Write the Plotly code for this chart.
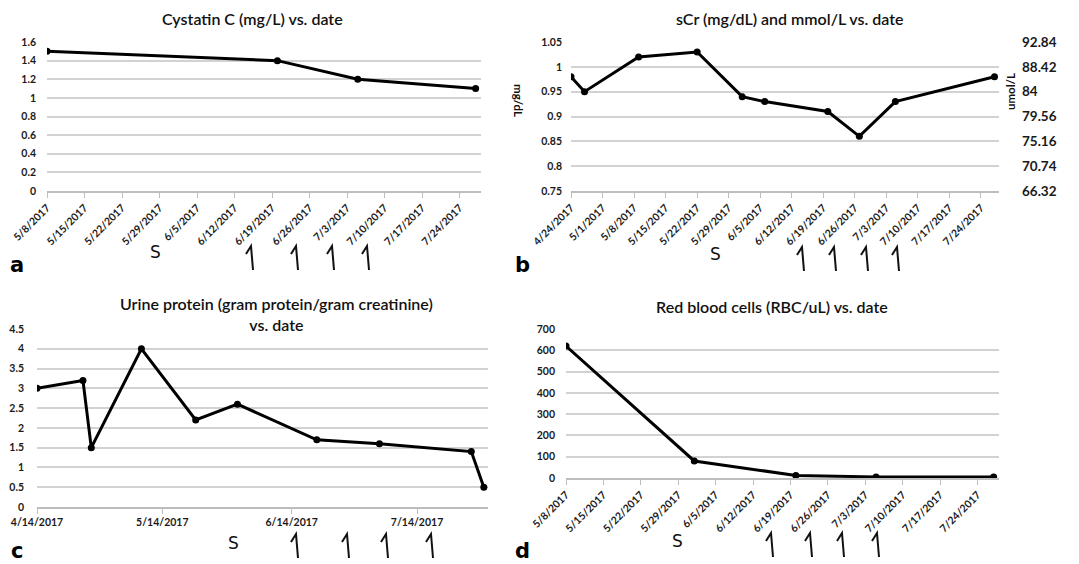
import plotly.graph_objects as go

# page is 1079x564; the html body adds an 8px margin at top/left, so the figure is drawn after it
PAGE_W, PAGE_H = 1079, 564
OFF = 8
W, H = PAGE_W - OFF, PAGE_H - OFF

# ---------------- data ----------------
cys_dates = ['2017-05-08', '2017-06-20', '2017-07-05', '2017-07-27']
cys_vals = [1.5, 1.4, 1.2, 1.1]

scr_dates = ['2017-04-24', '2017-04-27', '2017-05-09', '2017-05-22', '2017-06-01',
             '2017-06-06', '2017-06-20', '2017-06-27', '2017-07-05', '2017-07-27']
scr_vals = [0.98, 0.95, 1.02, 1.03, 0.94, 0.93, 0.91, 0.86, 0.93, 0.98]

up_dates = ['2017-04-14', '2017-04-25', '2017-04-27', '2017-05-09', '2017-05-22',
            '2017-06-01', '2017-06-20', '2017-07-05', '2017-07-27', '2017-07-30']
up_vals = [3.0, 3.2, 1.5, 4.0, 2.2, 2.6, 1.7, 1.6, 1.4, 0.5]

rbc_dates = ['2017-05-08', '2017-06-01', '2017-06-20', '2017-07-05', '2017-07-27']
rbc_vals = [620, 80, 12, 5, 5]

# tick labels
a_xticks = ['2017-05-08', '2017-05-15', '2017-05-22', '2017-05-29', '2017-06-05', '2017-06-12',
            '2017-06-19', '2017-06-26', '2017-07-03', '2017-07-10', '2017-07-17', '2017-07-24']
b_xticks = ['2017-04-24', '2017-05-01'] + a_xticks
c_xticks = ['2017-04-14', '2017-05-14', '2017-06-14', '2017-07-14']
c_xticktext = ['4/14/2017', '5/14/2017', '6/14/2017', '7/14/2017']
d_xticks = a_xticks

a_yvals = [0, 0.2, 0.4, 0.6, 0.8, 1.0, 1.2, 1.4, 1.6]
a_ytext = ['0', '0.2', '0.4', '0.6', '0.8', '1', '1.2', '1.4', '1.6']
b_yvals = [0.75, 0.8, 0.85, 0.9, 0.95, 1.0, 1.05]
b_ytext = ['0.75', '0.8', '0.85', '0.9', '0.95', '1', '1.05']
b_y2text = ['66.32', '70.74', '75.16', '79.56', '84', '88.42', '92.84']
c_yvals = [0, 0.5, 1, 1.5, 2, 2.5, 3, 3.5, 4, 4.5]
c_ytext = ['0', '0.5', '1', '1.5', '2', '2.5', '3', '3.5', '4', '4.5']
d_yvals = [0, 100, 200, 300, 400, 500, 600, 700]
d_ytext = ['0', '100', '200', '300', '400', '500', '600', '700']

titles = ['Cystatin C (mg/L) vs. date',
          'sCr (mg/dL) and mmol/L vs. date',
          'Urine protein (gram protein/gram creatinine)<br>vs. date',
          'Red blood cells (RBC/uL) vs. date']


def fx(p):
    return (p - OFF) / W


def fy(p):
    return 1 - (p - OFF) / H


FONT = 'Lato'
GRID = '#d2d2d2'
LINE = dict(color='black', width=3)
MARK = dict(color='black', size=7)

fig = go.Figure()
fig.add_trace(go.Scatter(x=cys_dates, y=cys_vals, mode='lines+markers', line=LINE, marker=MARK,
                         xaxis='x', yaxis='y', showlegend=False))
# invisible copy so that the secondary (umol/L) axis of panel b is drawn
fig.add_trace(go.Scatter(x=scr_dates, y=scr_vals, mode='lines', line=dict(color='rgba(0,0,0,0)'),
                         xaxis='x2', yaxis='y5', showlegend=False, hoverinfo='skip'))
fig.add_trace(go.Scatter(x=scr_dates, y=scr_vals, mode='lines+markers', line=LINE, marker=MARK,
                         xaxis='x2', yaxis='y2', showlegend=False))
fig.add_trace(go.Scatter(x=up_dates, y=up_vals, mode='lines+markers', line=LINE, marker=MARK,
                         xaxis='x3', yaxis='y3', showlegend=False))
fig.add_trace(go.Scatter(x=rbc_dates, y=rbc_vals, mode='lines+markers', line=LINE, marker=MARK,
                         xaxis='x4', yaxis='y4', showlegend=False))

tickfont = dict(family=FONT, size=10.5, color='#1a1a1a', weight='bold')


def xax(dom, rng, tickvals, anchor, angle=-45, ticktext=None, fmt='%-m/%-d/%Y'):
    d = dict(domain=[fx(dom[0]), fx(dom[1])], range=rng, anchor=anchor, type='date',
             tickmode='array', tickvals=tickvals, tickangle=angle, automargin=False,
             ticks='outside', ticklen=5, tickcolor='#bdbdbd', tickwidth=1,
             showline=True, linecolor='#bdbdbd', linewidth=1.5,
             showgrid=False, zeroline=False, tickfont=tickfont)
    if ticktext is not None:
        d['ticktext'] = ticktext
    else:
        d['tickformat'] = fmt
    return d


def yax(dom, rng, tickvals, ticktext, anchor, standoff=9):
    return dict(domain=[fy(dom[0]), fy(dom[1])], range=rng, anchor=anchor, automargin=False,
                tickmode='array', tickvals=tickvals, ticktext=ticktext,
                showgrid=True, gridcolor=GRID, gridwidth=1.5, zeroline=False,
                showline=False, ticks='', tickfont=tickfont, ticklabelstandoff=standoff)


fig.update_layout(
    width=W, height=H, margin=dict(l=0, r=0, t=0, b=0),
    paper_bgcolor='white', plot_bgcolor='white',
    xaxis=xax((47, 481), ['2017-05-08', '2017-07-28'], a_xticks, 'y'),
    yaxis=yax((191, 42), [0, 1.6], a_yvals, a_ytext, 'x', 10),
    xaxis2=xax((571, 999), ['2017-04-24', '2017-07-28'], b_xticks, 'y2'),
    yaxis2=yax((191, 42), [0.75, 1.05], b_yvals, b_ytext, 'x2', 8),
    yaxis5=dict(domain=[fy(191), fy(42)], range=[0.75, 1.05], overlaying='y2', side='right',
                anchor='x2', tickmode='array', tickvals=b_yvals, ticktext=b_y2text,
                showgrid=False, zeroline=False, showline=False, ticks='', automargin=False,
                tickfont=dict(family=FONT, size=13.5, color='#1a1a1a', weight='bold'),
                ticklabelstandoff=22),
    xaxis3=xax((37, 488), ['2017-04-14', '2017-07-31'], c_xticks, 'y3', angle=0,
               ticktext=c_xticktext),
    yaxis3=yax((507, 329), [0, 4.5], c_yvals, c_ytext, 'x3', 12),
    xaxis4=xax((566, 999), ['2017-05-08', '2017-07-28'], d_xticks, 'y4'),
    yaxis4=yax((478, 329), [0, 700], d_yvals, d_ytext, 'x4', 10),
)

ann = []
tfont = dict(family=FONT, size=16, color='#111111', weight=600)
ann.append(dict(x=fx(252), y=fy(19), text=titles[0], font=tfont))
ann.append(dict(x=fx(790), y=fy(19), text=titles[1], font=tfont))
ann.append(dict(x=fx(276), y=fy(314), text=titles[2], font=tfont))
ann.append(dict(x=fx(772), y=fy(306), text=titles[3], font=tfont))

# axis titles of panel b
ann.append(dict(x=fx(518), y=fy(100), text='mg/dL', textangle=90,
                font=dict(family=FONT, size=11.5, color='#111111', weight='bold')))
ann.append(dict(x=fx(1011), y=fy(92), text='umol/L', textangle=-90,
                font=dict(family=FONT, size=11.5, color='#111111', weight='bold')))

# panel letters
lfont = dict(family='DejaVu Sans', size=21, color='black', weight='bold')
for t, (px, py) in zip(['a', 'b', 'c', 'd'], [(17, 265), (522, 265), (17, 551), (522, 551)]):
    ann.append(dict(x=fx(px), y=fy(py), text=t, font=lfont))

# hand-drawn markers: S and half-arrows
sfont = dict(family='DejaVu Sans', size=17, color='#111111')
for px, py in [(155, 252), (715, 254), (233, 543), (677, 541)]:
    ann.append(dict(x=fx(px), y=fy(py), text='S', font=sfont))

for a in ann:
    a.update(xref='paper', yref='paper', showarrow=False, xanchor='center', yanchor='middle')

arrows = [([252, 297, 333, 368], 258), ([803, 835, 867, 898], 259),
          ([297, 348, 387, 432], 546), ([772, 811, 843, 878], 545)]
shapes = []
for xs, py in arrows:
    for px in xs:
        top, bot = py - 12, py + 12
        path = 'M {:.5f},{:.5f} L {:.5f},{:.5f} L {:.5f},{:.5f}'.format(
            fx(px + 1), fy(bot), fx(px - 1), fy(top), fx(px - 6), fy(top + 8))
        shapes.append(dict(type='path', xref='paper', yref='paper', path=path,
                           line=dict(color='#111111', width=2)))

fig.update_layout(annotations=ann, shapes=shapes)

fig.write_html('out.html')
